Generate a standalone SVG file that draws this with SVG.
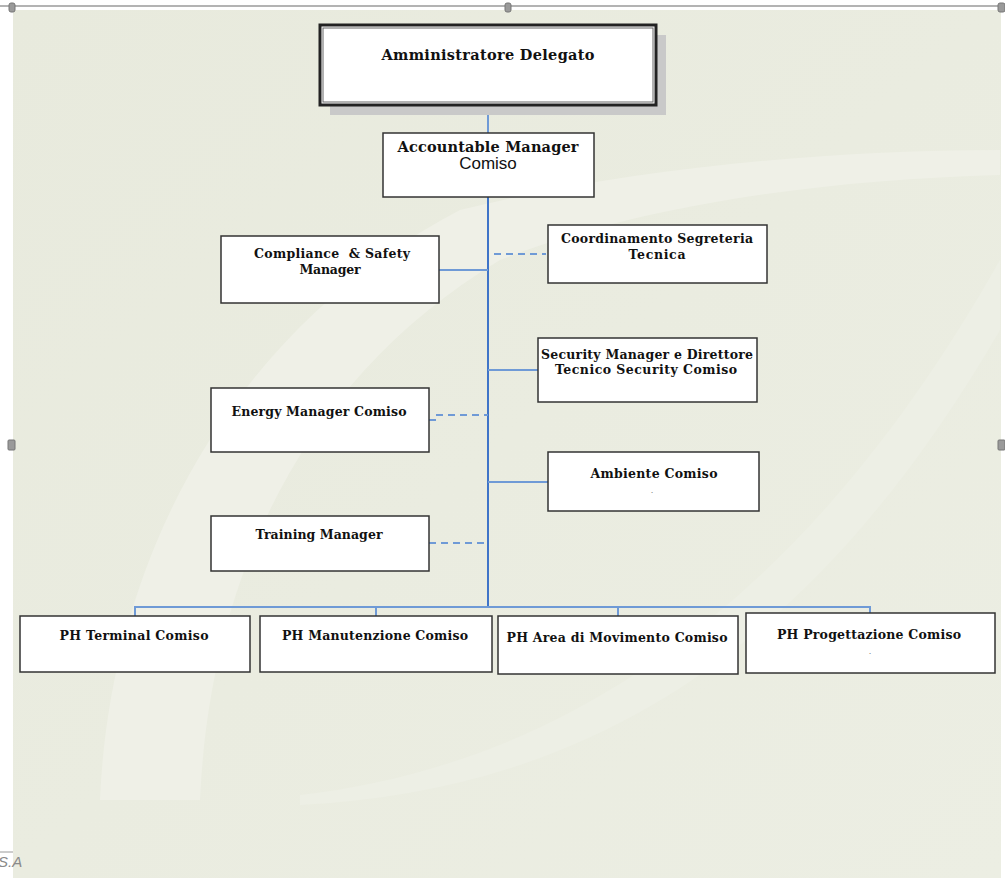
<svg xmlns="http://www.w3.org/2000/svg" width="1005" height="878" viewBox="0 0 1005 878">
<defs>
<linearGradient id="bg" x1="0" y1="0" x2="1" y2="1">
<stop offset="0" stop-color="#e8eadd"/>
<stop offset="1" stop-color="#eceee3"/>
</linearGradient>
</defs>
<style>
.box{fill:#ffffff;stroke:#333333;stroke-width:1.5}
.t{font-family:"DejaVu Serif","Liberation Serif",serif;font-weight:bold;font-size:12.5px;fill:#111111;text-anchor:middle}
.big{font-size:14.5px}
.dot{font-size:6px;fill:#777777}
.s{font-family:"Liberation Sans",Arial,sans-serif;font-size:17px;fill:#111111;text-anchor:middle}
.solid{stroke:#6f9ad6;stroke-width:2;fill:none}
.trunk{stroke:#3f74c8;stroke-width:2;fill:none}
.dash{stroke:#6f9ad6;stroke-width:2;fill:none;stroke-dasharray:7,5}
.handle{fill:#9a9a9a;stroke:#777777;stroke-width:1}
</style>
<rect x="0" y="0" width="1005" height="878" fill="#ffffff"/>
<rect x="13" y="10" width="988" height="868" fill="url(#bg)"/>
<path d="M100 800 C 110 560, 230 330, 460 210 C 620 170, 820 150, 1000 150 L 1000 175 C 820 180, 640 205, 500 260 C 300 380, 210 580, 200 800 Z" fill="#eff0e7"/>
<path d="M300 795 C 520 770, 780 650, 1000 260 L 1000 330 C 820 640, 600 790, 300 805 Z" fill="#edefe5"/>
<line x1="0" y1="6" x2="1005" y2="6" stroke="#9a9a9a" stroke-width="1.5"/>
<rect x="9" y="3" width="6" height="9" rx="2" class="handle"/>
<rect x="505" y="3" width="6" height="9" rx="2" class="handle"/>
<rect x="998" y="3" width="7" height="9" rx="2" class="handle"/>
<rect x="8" y="440" width="7" height="10" rx="1" class="handle"/>
<rect x="998" y="440" width="7" height="10" rx="1" class="handle"/>
<line x1="0" y1="852" x2="13" y2="852" stroke="#9a9a9a" stroke-width="1"/>
<text x="-2" y="867" font-family="Liberation Sans, Arial, sans-serif" font-size="15" font-style="italic" fill="#8a8a8a">S.A</text>
<g id="connectors">
<line x1="488" y1="105" x2="488" y2="133" class="solid"/>
<line x1="488" y1="197" x2="488" y2="607" class="trunk"/>
<line x1="439" y1="270" x2="488" y2="270" class="solid"/>
<line x1="494" y1="254" x2="546" y2="254" class="dash"/>
<line x1="488" y1="370" x2="538" y2="370" class="solid"/>
<path d="M429 420 L437 420 L437 415 L488 415" class="dash"/>
<line x1="488" y1="482" x2="548" y2="482" class="solid"/>
<line x1="429" y1="543" x2="488" y2="543" class="dash"/>
<path d="M135 616 L135 607 L870 607 L870 613" class="solid"/>
<line x1="376" y1="607" x2="376" y2="616" class="solid"/>
<line x1="618" y1="607" x2="618" y2="616" class="solid"/>
</g>
<g id="n-ad">
<rect x="330" y="35" width="336" height="80" fill="#c9c9c9"/>
<rect x="320" y="25" width="336" height="80" fill="#ffffff" stroke="#222222" stroke-width="3"/>
<rect x="323" y="28" width="330" height="74" fill="none" stroke="#666666" stroke-width="1"/>
<text x="488" y="60" class="t big" textLength="213" lengthAdjust="spacing">Amministratore Delegato</text>
</g>
<g id="n-am">
<rect x="383" y="133" width="211" height="64" class="box"/>
<text x="488" y="152" class="t big" textLength="181" lengthAdjust="spacing">Accountable Manager</text>
<text x="488" y="169" class="s">Comiso</text>
</g>
<g id="n-cs">
<rect x="221" y="236" width="218" height="67" class="box"/>
<text x="332" y="258" class="t" xml:space="preserve" textLength="156" lengthAdjust="spacing">Compliance  &amp; Safety</text>
<text x="330" y="274" class="t" textLength="61" lengthAdjust="spacing">Manager</text>
</g>
<g id="n-cst">
<rect x="548" y="225" width="219" height="58" class="box"/>
<text x="657" y="243" class="t" textLength="192" lengthAdjust="spacing">Coordinamento Segreteria</text>
<text x="657" y="259" class="t" textLength="57" lengthAdjust="spacing">Tecnica</text>
</g>
<g id="n-sm">
<rect x="538" y="338" width="219" height="64" class="box"/>
<text x="647" y="359" class="t" textLength="212" lengthAdjust="spacing">Security Manager e Direttore</text>
<text x="646" y="374" class="t" textLength="182" lengthAdjust="spacing">Tecnico Security Comiso</text>
</g>
<g id="n-em">
<rect x="211" y="388" width="218" height="64" class="box"/>
<text x="319" y="416" class="t" textLength="175" lengthAdjust="spacing">Energy Manager Comiso</text>
</g>
<g id="n-amb">
<rect x="548" y="452" width="211" height="59" class="box"/>
<text x="654" y="478" class="t" textLength="127" lengthAdjust="spacing">Ambiente Comiso</text>
<text x="652" y="493" class="t dot">.</text>
</g>
<g id="n-tm">
<rect x="211" y="516" width="218" height="55" class="box"/>
<text x="319" y="539" class="t" textLength="127" lengthAdjust="spacing">Training Manager</text>
</g>
<g id="n-pht">
<rect x="20" y="616" width="230" height="56" class="box"/>
<text x="134" y="640" class="t" textLength="149" lengthAdjust="spacing">PH Terminal Comiso</text>
</g>
<g id="n-phm">
<rect x="260" y="616" width="232" height="56" class="box"/>
<text x="375" y="640" class="t" textLength="186" lengthAdjust="spacing">PH Manutenzione Comiso</text>
</g>
<g id="n-pha">
<rect x="498" y="616" width="240" height="58" class="box"/>
<text x="617" y="642" class="t" textLength="221" lengthAdjust="spacing">PH Area di Movimento Comiso</text>
</g>
<g id="n-php">
<rect x="746" y="613" width="249" height="60" class="box"/>
<text x="869" y="639" class="t" textLength="184" lengthAdjust="spacing">PH Progettazione Comiso</text>
<text x="870" y="654" class="t dot">.</text>
</g>
</svg>
